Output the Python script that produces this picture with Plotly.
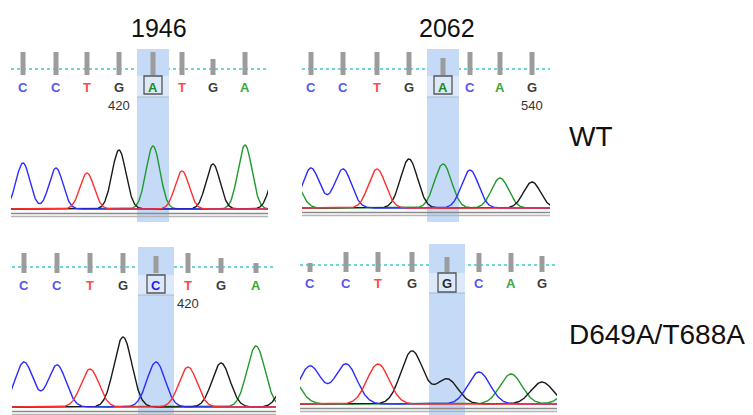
import numpy as np
import plotly.graph_objects as go

# page body has an 8px default margin; the figure starts at (8, 8) in the 753x415 window
PAGE_W, PAGE_H, BODY_M = 753, 415, 8
W, H = PAGE_W - 2 * BODY_M, PAGE_H - BODY_M

# ---------------- data ----------------
# base calls (4 panels: WT@1946, WT@2062, mutant@1946, mutant@2062)
bases_wt_1946 = list("CCTGATGA")
bases_wt_2062 = list("CCTGACAG")
bases_mut_1946 = list("CCTGCTGA")
bases_mut_2062 = list("CCTGGCAG")

# peak positions (scan units relative to window start)
scan_wt_1946 = [12, 45, 76, 108, 142, 171, 202, 234]
scan_wt_2062 = [9, 41, 75, 107, 141, 168, 198, 230]
scan_mut_1946 = [12, 45, 78, 111, 144, 176, 209, 244]
scan_mut_2062 = [10, 46, 78, 112, 147, 179, 211, 242]

# peak intensities (RFU)
peak_wt_1946 = [920, 820, 720, 1180, 1260, 760, 900, 1280]
peak_wt_2062 = [800, 780, 780, 980, 880, 760, 600, 520]
peak_mut_1946 = [900, 840, 760, 1400, 900, 800, 880, 1220]
peak_mut_2062 = [760, 800, 800, 1060, 500, 640, 600, 440]

# partially visible flanking peaks (base, scan, intensity)
flank_wt_1946 = [("G", 266, 800)]
flank_wt_2062 = [("A", -10, 600)]
flank_mut_1946 = [("G", 278, 700)]
flank_mut_2062 = [("A", -12, 600), ("A", 275, 400)]

# base-call quality values
qual_wt_1946 = [46, 46, 46, 46, 46, 46, 32, 46]
qual_wt_2062 = [46, 46, 46, 46, 34, 46, 46, 46]
qual_mut_1946 = [40, 40, 40, 40, 34, 40, 30, 20]
qual_mut_2062 = [18, 40, 40, 40, 30, 38, 38, 32]

# base-number labels (index of base, label)
num_wt_1946 = (3, "420")
num_wt_2062 = (7, "540")
num_mut_1946 = (5, "420")
num_mut_2062 = None

selected_index = 4
site_labels = ["1946", "2062"]
row_labels = ["WT", "D649A/T688A"]

# ---------------- layout helpers ----------------
def fx(px):
    return (px - BODY_M) / W


def fy(py):
    return 1 - (py - BODY_M) / H


trace_col = {"A": "#1f9a2a", "C": "#2b2bff", "G": "#1a1a1a", "T": "#ff2f2f"}
letter_col = {"A": "#3aa63a", "C": "#5555f2", "G": "#3c3c3c", "T": "#ff4a4a"}
sel_letter_col = {"A": "#1c8a22", "C": "#1f1fe0", "G": "#2a2a2a", "T": "#e02020"}

panels = [
    dict(bases=bases_wt_1946, scan=scan_wt_1946, peak=peak_wt_1946, flank=flank_wt_1946,
         qual=qual_wt_1946, num=num_wt_1946,
         x0=11, x1=268, base=209, qbot=75, dot=69, let=87, hl=(49, 222), band=(76, 97),
         box=(76, 94), numy=105, sigma=7.0, hw=16),
    dict(bases=bases_wt_2062, scan=scan_wt_2062, peak=peak_wt_2062, flank=flank_wt_2062,
         qual=qual_wt_2062, num=num_wt_2062,
         x0=302, x1=550, base=208, qbot=75, dot=69, let=87, hl=(49, 222), band=(76, 97),
         box=(76, 94), numy=105, sigma=8.5, hw=16),
    dict(bases=bases_mut_1946, scan=scan_mut_1946, peak=peak_mut_1946, flank=flank_mut_1946,
         qual=qual_mut_1946, num=num_mut_1946,
         x0=12, x1=276, base=407, qbot=273, dot=267, let=285, hl=(247, 415), band=(275, 295),
         box=(275, 293), numy=303, sigma=9.0, hw=18),
    dict(bases=bases_mut_2062, scan=scan_mut_2062, peak=peak_mut_2062, flank=flank_mut_2062,
         qual=qual_mut_2062, num=num_mut_2062,
         x0=300, x1=557, base=404, qbot=272, dot=265, let=283, hl=(244, 415), band=(273, 293),
         box=(273, 292), numy=301, sigma=11.0, hw=18),
]

RFU_PER_PX = 20.0
Q_PER_PX = 2.0

fig = go.Figure()
layout = dict(width=W, height=H, margin=dict(l=0, r=0, t=0, b=0),
              paper_bgcolor="white", plot_bgcolor="white", showlegend=False,
              shapes=[], annotations=[])

for k, p in enumerate(panels, start=1):
    sx = "" if k == 1 else str(k)
    qy = str(k + 4)
    width = p["x1"] - p["x0"]
    layout["xaxis" + sx] = dict(domain=[fx(p["x0"]), fx(p["x1"])], range=[0, width],
                                visible=False, fixedrange=True)
    bot = min(p["base"] + 3, PAGE_H)
    layout["yaxis" + sx] = dict(domain=[fy(bot), fy(p["base"] - 100)],
                                range=[-(bot - p["base"]) * RFU_PER_PX, 100 * RFU_PER_PX],
                                anchor="x" + sx, visible=False, fixedrange=True)
    layout["yaxis" + qy] = dict(domain=[fy(p["qbot"]), fy(p["qbot"] - 25)],
                                range=[0, 25 * Q_PER_PX],
                                anchor="x" + sx, visible=False, fixedrange=True)

    xr = "x" + sx
    c = p["scan"][selected_index]
    # dotted cyan line
    layout["shapes"].append(dict(type="line", xref=xr + " domain", yref="paper",
                                 x0=0, x1=1, y0=fy(p["dot"]), y1=fy(p["dot"]),
                                 line=dict(color="#3cc9cf", width=1.5, dash="3px,3px"),
                                 layer="below"))
    # highlight column
    layout["shapes"].append(dict(type="rect", xref=xr, yref="paper",
                                 x0=c - p["hw"], x1=c + p["hw"],
                                 y0=fy(p["hl"][1]), y1=fy(p["hl"][0]),
                                 fillcolor="#c4daf7", line=dict(width=0), layer="below"))
    layout["shapes"].append(dict(type="rect", xref=xr, yref="paper",
                                 x0=c - p["hw"], x1=c + p["hw"],
                                 y0=fy(p["band"][1]), y1=fy(p["band"][0]),
                                 fillcolor="#dce9fb", line=dict(width=0), layer="below"))
    layout["shapes"].append(dict(type="line", xref=xr, yref="paper",
                                 x0=c - p["hw"], x1=c + p["hw"],
                                 y0=fy(p["band"][1]), y1=fy(p["band"][1]),
                                 line=dict(color="#a9b8cc", width=1), layer="below"))
    # box around selected base
    layout["shapes"].append(dict(type="rect", xref=xr, yref="paper",
                                 x0=c - 9, x1=c + 9,
                                 y0=fy(p["box"][1]), y1=fy(p["box"][0]),
                                 line=dict(color="#555555", width=1.3)))
    # double grey line under trace
    for dy, col in ((4.5, "#8a8a8a"), (7.5, "#b4b4b4")):
        yy = p["base"] + dy
        layout["shapes"].append(dict(type="line", xref=xr + " domain", yref="paper",
                                     x0=0, x1=1, y0=fy(yy), y1=fy(yy),
                                     line=dict(color=col, width=1.6)))

    # traces
    xs = np.arange(-2, width + 2.01, 0.5)
    peaks = list(zip(p["bases"], p["scan"], p["peak"])) + list(p["flank"])
    for b in ["A", "G", "C", "T"]:
        ys = np.zeros_like(xs)
        for bb, s, h in peaks:
            if bb == b:
                ys += h * np.exp(-((xs - s) ** 2) / (2 * p["sigma"] ** 2))
        fig.add_trace(go.Scatter(x=xs, y=ys, mode="lines", xaxis=xr, yaxis="y" + sx,
                                 line=dict(color=trace_col[b], width=1.4),
                                 hoverinfo="skip"))
    # quality bars
    fig.add_trace(go.Bar(x=p["scan"], y=p["qual"], width=5, xaxis=xr, yaxis="y" + qy,
                         marker=dict(color="#9c9c9c", line=dict(width=0)),
                         hoverinfo="skip"))
    # base letters
    for i, (b, s) in enumerate(zip(p["bases"], p["scan"])):
        col = sel_letter_col[b] if i == selected_index else letter_col[b]
        layout["annotations"].append(dict(x=s, y=fy(p["let"]), xref=xr, yref="paper",
                                          text="<b>%s</b>" % b, showarrow=False,
                                          font=dict(family="Liberation Sans", size=13,
                                                    color=col),
                                          xanchor="center", yanchor="middle"))
    if p["num"] is not None:
        idx, lab = p["num"]
        layout["annotations"].append(dict(x=p["scan"][idx], y=fy(p["numy"]), xref=xr,
                                          yref="paper", text=lab, showarrow=False,
                                          font=dict(family="Liberation Sans", size=13,
                                                    color="#333333"),
                                          xanchor="center", yanchor="middle"))

# site labels and row labels
for lab, cx in zip(site_labels, (159, 447)):
    layout["annotations"].append(dict(x=fx(cx), y=fy(28), xref="paper", yref="paper",
                                      text=lab, showarrow=False,
                                      font=dict(family="Liberation Sans", size=25, color="#111111"),
                                      xanchor="center", yanchor="middle"))
for lab, cx, cy in zip(row_labels, (567, 567), (136.5, 334)):
    layout["annotations"].append(dict(x=fx(cx), y=fy(cy), xref="paper", yref="paper",
                                      text=lab, showarrow=False,
                                      font=dict(family="Liberation Sans", size=28, color="#111111"),
                                      xanchor="left", yanchor="middle"))

fig.update_layout(**layout)
fig.write_html("out.html")
